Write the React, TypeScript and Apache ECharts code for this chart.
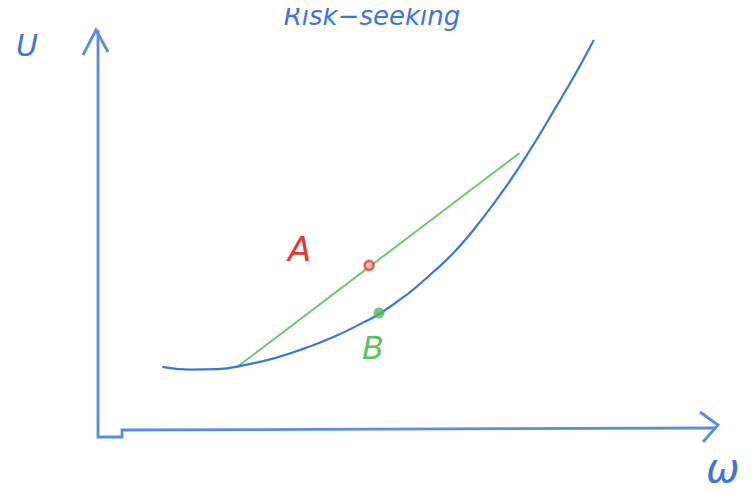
import React, { useEffect, useRef } from "react";
import * as echarts from "echarts";

// Convex utility curve U(ω): sampled points along the sketch
const curveW = [1.04, 1.49, 1.93, 2.38, 2.87, 3.35, 3.84, 4.29, 4.57, 4.98, 5.38, 5.79, 6.19, 6.6, 7.0, 7.41, 7.73, 8.01];
const curveU = [1.62, 1.55, 1.56, 1.67, 1.85, 2.1, 2.41, 2.76, 3.0, 3.46, 4.0, 4.62, 5.38, 6.26, 7.23, 8.31, 9.18, 10.0];

// Chord between the two outcomes
const chordW = [2.25, 6.81];
const chordU = [1.62, 7.1];

// Expected utility (A, on the chord) and utility of expected wealth (B, on the curve)
const pointA = [4.38, 4.22];
const pointB = [4.54, 3.0];

const BLUE = "#3f74dc";
const AXIS_BLUE = "#5a8ce6";
const GREEN = "#6cc96c";
const RED = "#e0383a";

export default function App() {
  const ref = useRef<HTMLDivElement>(null);

  useEffect(() => {
    if (!ref.current) return;
    const chart = echarts.init(ref.current, undefined, { renderer: "svg" });
    const hand = "'DejaVu Sans', sans-serif";
    chart.setOption({
      animation: false,
      backgroundColor: "#ffffff",
      grid: { left: 98, right: 37, top: 40, bottom: 62 },
      xAxis: { type: "value", min: 0, max: 10, show: false },
      yAxis: { type: "value", min: 0, max: 10, show: false },
      series: [
        {
          type: "line",
          smooth: 0.5,
          symbol: "none",
          data: curveW.map((w, i) => [w, curveU[i]]),
          lineStyle: { color: BLUE, width: 2.2 },
          z: 3,
        },
        {
          type: "line",
          symbol: "none",
          data: chordW.map((w, i) => [w, chordU[i]]),
          lineStyle: { color: GREEN, width: 2 },
          z: 2,
        },
        {
          type: "scatter",
          data: [pointA],
          symbol: "circle",
          symbolSize: 9,
          itemStyle: { color: "#f7b0b0", borderColor: RED, borderWidth: 2.5 },
          z: 5,
        },
        {
          type: "scatter",
          data: [pointB],
          symbol: "circle",
          symbolSize: 11,
          itemStyle: { color: "#4cbb5c" },
          z: 5,
        },
      ],
      graphic: [
        // hand-drawn axes frame
        {
          type: "polyline",
          shape: { points: [[98, 30], [98, 437], [122, 437], [122, 430], [716, 428]] },
          style: { stroke: AXIS_BLUE, lineWidth: 2.8, fill: "none" },
        },
        {
          type: "polyline",
          shape: { points: [[83, 55], [96, 30], [108, 52]] },
          style: { stroke: AXIS_BLUE, lineWidth: 2.8, fill: "none" },
        },
        {
          type: "polyline",
          shape: { points: [[700, 412], [718, 425], [703, 442]] },
          style: { stroke: AXIS_BLUE, lineWidth: 2.8, fill: "none" },
        },
        {
          type: "text",
          x: 372,
          y: 3,
          style: {
            text: "Risk−seeking",
            fill: BLUE,
            font: `italic 26px ${hand}`,
            align: "center",
            verticalAlign: "top",
          },
        },
        {
          type: "text",
          x: 16,
          y: 30,
          style: { text: "U", fill: BLUE, font: `italic 30px ${hand}` },
        },
        {
          type: "text",
          x: 706,
          y: 448,
          style: { text: "ω", fill: BLUE, font: `italic 40px ${hand}` },
        },
        {
          type: "text",
          x: 288,
          y: 232,
          style: { text: "A", fill: RED, font: `italic 34px ${hand}` },
        },
        {
          type: "text",
          x: 362,
          y: 332,
          style: { text: "B", fill: "#5cc15f", font: `italic 32px ${hand}` },
        },
      ],
    });
    return () => chart.dispose();
  }, []);

  return <div ref={ref} style={{ width: 754, height: 492, margin: -8 }} />;
}
